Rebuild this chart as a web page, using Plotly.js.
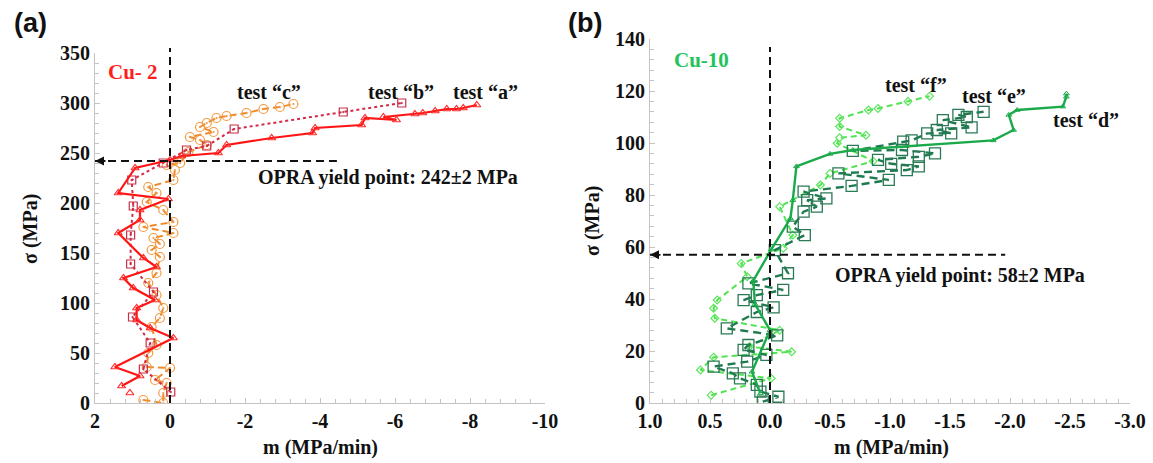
<!DOCTYPE html>
<html>
<head>
<meta charset="utf-8">
<script src="https://cdn.plot.ly/plotly-3.0.1.min.js"></script>
<style>html,body{margin:0;padding:0;background:#fff;}#chart{width:1153px;height:463px;}</style>
</head>
<body>
<div id="chart"></div>
<script>
// ---------- Panel (a) Cu-2 ----------
const testA_m = [1.07, null, 1.29, 0.80, 1.47, -0.09, 0.53, 0.89, 0.89, 0.40, 0.98, 1.24, 0.36, 0.71, 1.38, 0.80, 0.80, 0.04, 1.38, 0.93, 0.00, -0.31, -1.29, -1.51, -2.71, -3.80, -3.87, -5.11, -5.20, -6.04, -5.69, -6.53, -6.74, -7.07, -7.38, -7.64, -7.82, -8.18];
const testA_s = [10, null, 17, 27, 36, 65, 75, 83, 95, 103, 115, 125, 136, 145, 170, 183, 193, 204, 210, 235, 243, 247, 250, 258, 265, 270, 275, 278, 285, 283, 286, 289, 290, 292, 294, 294, 295, 298];

const testB_m = [-0.02, 0.71, 0.53, 1.00, 0.44, 1.05, 1.05, 0.98, 1.02, 0.18, -0.44, -0.98, -1.71, -4.62, -6.18];
const testB_s = [11, 34, 60, 86, 111, 139, 168, 197, 223, 240, 253, 257, 274, 291, 300];

const testC_m = [0.71, 0.18, 0.18, 0.09, 0.40, 0.00, 0.62, 0.58, 0.36, 0.49, 0.27, 0.18, 0.36, 0.58, 0.36, 0.27, 0.49, 0.27, 0.44, -0.09, 0.71, -0.09, 0.18, 0.62, 0.36, 0.58, -0.09, -0.13, 0.09, -0.27, -0.49, -0.98, -0.80, -0.53, -1.16, -0.80, -0.98, -1.24, -1.51, -2.04, -2.49, -2.93, -3.29];
const testC_s = [3, 0, 10, 20, 23, 35, 36, 50, 58, 76, 85, 95, 108, 120, 130, 146, 153, 159, 165, 170, 176, 181, 193, 201, 210, 216, 223, 233, 238, 240, 251, 258, 263, 266, 271, 276, 280, 285, 287, 290, 294, 296, 299];

const ticksA_x = [2, 0, -2, -4, -6, -8, -10];
const ticksA_xText = ["2", "0", "-2", "-4", "-6", "-8", "-10"];
const yieldA = 242;

// ---------- Panel (b) Cu-10 ----------
const testD_m = [0.08, 0.15, 0.00, 0.125, 0.14, -0.01, -0.17, -0.19, -0.22, -0.50, -0.69, -1.86, -2.03, -1.99, -2.06, -2.44, -2.47, -2.47];
const testD_s = [3.7, 12, 28, 38, 47, 59, 71, 78, 91, 95.8, 97.3, 101, 105, 110.8, 112.7, 114, 117.8, 119];

const testE_m = [0.06, -0.07, 0.08, 0.11, 0.25, 0.31, 0.47, 0.19, 0.03, 0.22, 0.18, -0.06, 0.36, 0.11, -0.03, 0.22, 0.11, -0.11, 0.18, -0.15, -0.04, -0.29, -0.19, -0.28, -0.39, -0.31, -0.47, -0.28, -0.68, -0.99, -0.57, -1.14, -1.24, -1.01, -0.90, -1.24, -1.375, -1.10, -0.69, -1.11, -1.18, -1.31, -1.51, -1.39, -1.68, -1.44, -1.64, -1.57, -1.78];
const testE_s = [0.5, 2.4, 4.4, 7, 9.5, 11.4, 14, 15.9, 18.5, 20.4, 22.3, 26, 28.7, 35, 36.8, 39.6, 41.5, 43.5, 46, 49.9, 58.8, 64.6, 67.8, 73.6, 75.5, 78, 78.7, 81.3, 83.5, 85.8, 88.3, 89.6, 91, 92, 93.5, 94.7, 96, 97.3, 97, 100.5, 101, 103.7, 103.7, 105, 106, 108.8, 110, 110.8, 112];

const testF_m = [0.49, -0.01, 0.58, 0.47, -0.18, 0.17, -0.08, 0.46, 0.47, 0.44, 0.19, 0.24, -0.11, -0.19, -0.08, -0.42, -0.50, -0.86, -0.56, -0.58, -0.80, -0.58, -0.58, -0.82, -0.90, -1.15, -1.33];
const testF_s = [3, 9.5, 12.7, 17.6, 19.7, 21.7, 28, 32.6, 36.4, 39.6, 48.6, 53.7, 59.5, 64.6, 75.5, 83.8, 88.3, 93, 99.9, 102, 103, 106.3, 109.5, 112.7, 113.3, 116, 118];

const ticksB_x = [1.0, 0.5, 0.0, -0.5, -1.0, -1.5, -2.0, -2.5, -3.0];
const ticksB_xText = ["1.0", "0.5", "0.0", "-0.5", "-1.0", "-1.5", "-2.0", "-2.5", "-3.0"];
const yieldB = 57;

// ---------- styles ----------
const SERIF = "Liberation Serif";
const AX = '#c4c4c4';
const tickFont = () => ({family: SERIF, size: 20, weight: 'bold', color: '#111'});
const txt = (s, c) => ({family: SERIF, size: s, weight: 'bold', color: c || '#111'});

const traces = [
  {x: testC_m, y: testC_s, xaxis: 'x', yaxis: 'y', mode: 'lines+markers', name: 'test c',
   line: {color: '#EE8A2A', width: 2, dash: '7px,4px'},
   marker: {symbol: 'circle-open-dot', size: 9, color: '#F29B45', line: {width: 1.2}}},
  {x: testB_m, y: testB_s, xaxis: 'x', yaxis: 'y', mode: 'lines+markers', name: 'test b',
   line: {color: '#D42A48', width: 2, dash: 'dot'},
   marker: {symbol: 'square-open-dot', size: 8, color: '#C8304A', line: {width: 1.2}}},
  {x: testA_m, y: testA_s, xaxis: 'x', yaxis: 'y', mode: 'lines+markers', name: 'test a', connectgaps: false,
   line: {color: '#FF1414', width: 2.2},
   marker: {symbol: 'triangle-up-open', size: 7, color: '#FF2A2A', line: {width: 1.2}}},
  {x: testF_m, y: testF_s, xaxis: 'x2', yaxis: 'y2', mode: 'lines+markers', name: 'test f',
   line: {color: '#4FE34F', width: 2, dash: '6px,4px'},
   marker: {symbol: 'diamond-open', size: 6, color: '#5BE65B', line: {width: 1.2}}},
  {x: testE_m, y: testE_s, xaxis: 'x2', yaxis: 'y2', mode: 'lines+markers', name: 'test e',
   line: {color: '#1F7A4F', width: 2.4, dash: '8px,5px'},
   marker: {symbol: 'square-open', size: 11, color: '#2A7A55', line: {width: 1.3}}},
  {x: testD_m, y: testD_s, xaxis: 'x2', yaxis: 'y2', mode: 'lines+markers', name: 'test d',
   line: {color: '#1AAA4A', width: 2.4},
   marker: {symbol: 'triangle-up-open', size: 5, color: '#1AAA4A', line: {width: 1}}}
];

function xax(domain, range, tv, tt, minorD) {
  return {domain: domain, range: range, tickmode: 'array', tickvals: tv, ticktext: tt,
    showline: true, linecolor: AX, linewidth: 1, ticks: 'inside', ticklen: 5, tickcolor: AX,
    minor: {tickmode: 'linear', tick0: 0, dtick: minorD, ticks: 'inside', ticklen: 4, tickcolor: AX},
    showgrid: false, zeroline: false, tickfont: tickFont(), automargin: false, fixedrange: true};
}
function yax(domain, range, d, minorD, anchor) {
  return {domain: domain, range: range, dtick: d, tick0: 0, anchor: anchor,
    showline: true, linecolor: AX, linewidth: 1, ticks: 'inside', ticklen: 5, tickcolor: AX,
    minor: {tickmode: 'linear', tick0: 0, dtick: minorD, ticks: 'inside', ticklen: 4, tickcolor: AX},
    showgrid: false, zeroline: false, tickfont: tickFont(), automargin: false, fixedrange: true};
}

const W = 1153, H = 463;
const dash = {color: '#111', width: 2, dash: '8px,5px'};
const C = {xanchor: 'center', yanchor: 'middle', showarrow: false};

const layout = {
  width: W, height: H, margin: {l: 0, r: 0, t: 0, b: 0},
  paper_bgcolor: '#fff', plot_bgcolor: '#fff', showlegend: false,
  font: {family: SERIF},
  xaxis: xax([95 / W, 545 / W], [2, -10], ticksA_x, ticksA_xText, 0.4),
  yaxis: yax([(H - 403) / H, (H - 53) / H], [0, 350], 50, 10, 'x'),
  xaxis2: Object.assign(xax([650 / W, 1130 / W], [1, -3], ticksB_x, ticksB_xText, 0.1), {anchor: 'y2'}),
  yaxis2: yax([(H - 403) / H, (H - 39) / H], [0, 140], 20, 4, 'x2'),
  shapes: [
    {type: 'line', xref: 'x', yref: 'paper', x0: 0, x1: 0, y0: (H - 403) / H, y1: (H - 48) / H, line: dash},
    {type: 'line', xref: 'x', yref: 'y', x0: 2, x1: -4.45, y0: yieldA, y1: yieldA, line: dash},
    {type: 'line', xref: 'x2', yref: 'paper', x0: 0, x1: 0, y0: (H - 403) / H, y1: (H - 47) / H, line: dash},
    {type: 'line', xref: 'x2', yref: 'y2', x0: 1, x1: -1.96, y0: yieldB, y1: yieldB, line: dash}
  ],
  annotations: [
    // arrowheads on the yield lines
    {xref: 'x', yref: 'y', x: 2, y: yieldA, ax: 12, ay: 0, text: '', showarrow: true, arrowhead: 2, arrowsize: 1, arrowwidth: 1.8, arrowcolor: '#111'},
    {xref: 'x2', yref: 'y2', x: 1, y: yieldB, ax: 12, ay: 0, text: '', showarrow: true, arrowhead: 2, arrowsize: 1, arrowwidth: 1.8, arrowcolor: '#111'},
    // panel labels
    Object.assign({xref: 'paper', yref: 'paper', x: 30 / W, y: (H - 23) / H, text: '(a)', font: {family: 'Liberation Sans', size: 27, weight: 'bold', color: '#111'}}, C),
    Object.assign({xref: 'paper', yref: 'paper', x: 585 / W, y: (H - 23) / H, text: '(b)', font: {family: 'Liberation Sans', size: 27, weight: 'bold', color: '#111'}}, C),
    // axis titles
    Object.assign({xref: 'paper', yref: 'paper', x: 320 / W, y: (H - 447) / H, text: 'm (MPa/min)', font: txt(20)}, C),
    Object.assign({xref: 'paper', yref: 'paper', x: 891 / W, y: (H - 447) / H, text: 'm (MPa/min)', font: txt(20)}, C),
    Object.assign({xref: 'paper', yref: 'paper', x: 30 / W, y: (H - 229) / H, text: 'σ (MPa)', textangle: -90, font: txt(20)}, C),
    Object.assign({xref: 'paper', yref: 'paper', x: 592 / W, y: (H - 221) / H, text: 'σ (MPa)', textangle: -90, font: txt(20)}, C),
    // panel (a) texts
    Object.assign({xref: 'x', yref: 'y', x: 0.99, y: 331, text: 'Cu- 2', font: txt(21, '#FF1E1E')}, C),
    Object.assign({xref: 'x', yref: 'y', x: -2.64, y: 311, text: 'test “c”', font: txt(20)}, C),
    Object.assign({xref: 'x', yref: 'y', x: -6.16, y: 311, text: 'test “b”', font: txt(20)}, C),
    Object.assign({xref: 'x', yref: 'y', x: -8.4, y: 311, text: 'test “a”', font: txt(20)}, C),
    Object.assign({xref: 'x', yref: 'y', x: -5.81, y: 226, text: 'OPRA yield point: 242±2 MPa', font: txt(20)}, C),
    // panel (b) texts
    Object.assign({xref: 'x2', yref: 'y2', x: 0.575, y: 132, text: 'Cu-10', font: txt(21, '#22C45A')}, C),
    Object.assign({xref: 'x2', yref: 'y2', x: -1.22, y: 122.3, text: 'test “f”', font: txt(20)}, C),
    Object.assign({xref: 'x2', yref: 'y2', x: -1.87, y: 118, text: 'test “e”', font: txt(20)}, C),
    Object.assign({xref: 'x2', yref: 'y2', x: -2.63, y: 109, text: 'test “d”', font: txt(20)}, C),
    Object.assign({xref: 'x2', yref: 'y2', x: -1.58, y: 49, text: 'OPRA yield point: 58±2 MPa', font: txt(20)}, C)
  ]
};

Plotly.newPlot('chart', traces, layout, {staticPlot: true, displayModeBar: false});
</script>
</body>
</html>
